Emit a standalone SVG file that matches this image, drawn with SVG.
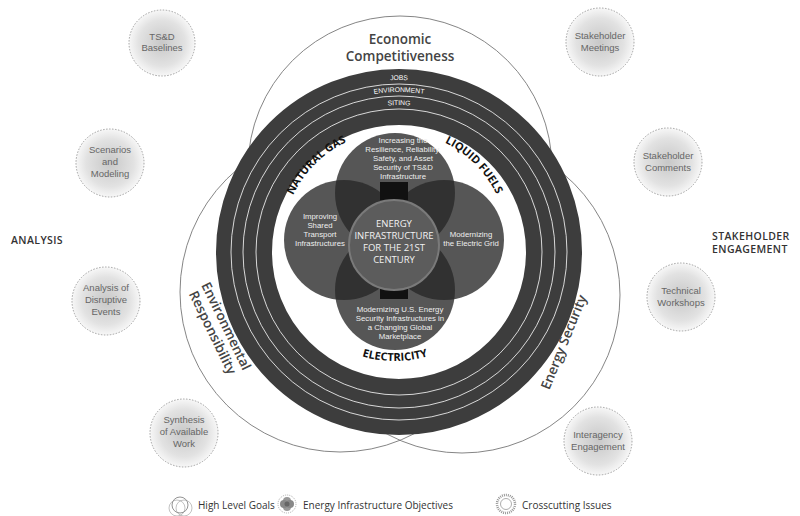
<svg xmlns="http://www.w3.org/2000/svg" xmlns:xlink="http://www.w3.org/1999/xlink" width="800" height="516" viewBox="0 0 800 516">
<defs>
<style>
.goal{fill:none;stroke:#777;stroke-width:0.9}
.sm{fill:url(#dots);stroke:#a0a0a0;stroke-width:1;stroke-dasharray:1.5 1.5}
.smt{font-family:"Liberation Sans","Open Sans",sans-serif;font-size:9.5px;fill:#666;text-anchor:middle}
.gt{font-family:"Open Sans","Liberation Sans",sans-serif;font-size:13.5px;font-weight:600;fill:#444;text-anchor:middle}
.ring{font-family:"Liberation Sans","Open Sans",sans-serif;font-size:6.8px;fill:#fff;text-anchor:middle}
.arc{font-family:"Open Sans","Liberation Sans",sans-serif;font-size:11px;font-weight:bold;fill:#111;text-anchor:middle}
.lt{font-family:"Liberation Sans","Open Sans",sans-serif;font-size:7.8px;fill:#eee;text-anchor:middle}
.ct{font-family:"Open Sans","Liberation Sans",sans-serif;font-size:9.5px;fill:#f2f2f2;text-anchor:middle}
.side{font-family:"Open Sans","Liberation Sans",sans-serif;font-size:10.5px;font-weight:600;fill:#333;letter-spacing:0.4px}
.leg{font-family:"Open Sans","Liberation Sans",sans-serif;font-size:10px;fill:#333}
.lobe{fill:#262626;fill-opacity:0.78}
</style>
<radialGradient id="dots" cx="50%" cy="50%" r="50%">
<stop offset="0" stop-color="#c8c8c8"/>
<stop offset="0.7" stop-color="#e2e2e2"/>
<stop offset="1" stop-color="#f7f7f7"/>
</radialGradient>
<path id="rJobs" d="M227,252 A172,172 0 0 1 571,252"/>
<path id="rEnv" d="M239,252 A160,160 0 0 1 559,252"/>
<path id="rSit" d="M252,252 A147,147 0 0 1 546,252"/>
<path id="aTop" d="M282,244 A113,113 0 1 1 508,244 A113,113 0 1 1 282,244"/>
<path id="aBot" d="M278,244 A117,117 0 0 0 512,244"/>
</defs>

<g id="goals">
<circle class="goal" cx="400" cy="168" r="152"/>
<circle class="goal" cx="340" cy="292" r="160"/>
<circle class="goal" cx="462" cy="295" r="158"/>
</g>

<g id="crosscutting-ring">
<circle cx="399" cy="252" r="155" fill="#fff" stroke="#3d3d3d" stroke-width="56"/>
<circle cx="399" cy="252" r="168" fill="none" stroke="#fff" stroke-width="0.8"/>
<circle cx="399" cy="252" r="156" fill="none" stroke="#fff" stroke-width="0.8"/>
<circle cx="399" cy="252" r="143" fill="none" stroke="#fff" stroke-width="0.8"/>
<text class="ring"><textPath xlink:href="#rJobs" startOffset="50%">JOBS</textPath></text>
<text class="ring"><textPath xlink:href="#rEnv" startOffset="50%">ENVIRONMENT</textPath></text>
<text class="ring"><textPath xlink:href="#rSit" startOffset="50%">SITING</textPath></text>
</g>

<g id="objectives">
<circle cx="395" cy="193" r="60" class="lobe"/>
<circle cx="395" cy="290" r="60" class="lobe"/>
<circle cx="344" cy="240" r="60" class="lobe"/>
<circle cx="444" cy="240" r="60" class="lobe"/>
<rect x="380" y="182" width="28" height="18" fill="#111"/>
<rect x="380" y="283" width="28" height="16" fill="#111"/>
<circle cx="394" cy="245" r="45" fill="#5c5c5c" stroke="#7a7a7a" stroke-width="2"/>
<text class="lt"><tspan x="403" y="143">Increasing the</tspan><tspan x="403" y="152">Resilience, Reliability,</tspan><tspan x="403" y="161">Safety, and Asset</tspan><tspan x="403" y="170">Security of TS&amp;D</tspan><tspan x="403" y="179">Infrastructure</tspan></text>
<text class="lt"><tspan x="320" y="219">Improving</tspan><tspan x="320" y="228">Shared</tspan><tspan x="320" y="237">Transport</tspan><tspan x="320" y="246">Infrastructures</tspan></text>
<text class="lt"><tspan x="471" y="237">Modernizing</tspan><tspan x="471" y="246">the Electric Grid</tspan></text>
<text class="lt"><tspan x="400" y="312">Modernizing U.S. Energy</tspan><tspan x="400" y="321">Security Infrastructures in</tspan><tspan x="400" y="330">a Changing Global</tspan><tspan x="400" y="339">Marketplace</tspan></text>
<text class="ct"><tspan x="394" y="227">ENERGY</tspan><tspan x="394" y="239">INFRASTRUCTURE</tspan><tspan x="394" y="251">FOR THE 21ST</tspan><tspan x="394" y="263">CENTURY</tspan></text>
<text class="arc"><textPath xlink:href="#aTop" startOffset="12.5%">NATURAL GAS</textPath></text>
<text class="arc"><textPath xlink:href="#aTop" startOffset="37.5%">LIQUID FUELS</textPath></text>
<text class="arc"><textPath xlink:href="#aBot" startOffset="50%">ELECTRICITY</textPath></text>
</g>

<g id="goal-labels">
<text class="gt"><tspan x="400" y="44">Economic</tspan><tspan x="400" y="61">Competitiveness</tspan></text>
<text class="gt" transform="translate(222,328) rotate(64)"><tspan x="0" y="0">Environmental</tspan><tspan x="0" y="15">Responsibility</tspan></text>
<text class="gt" transform="translate(568,344) rotate(-68)">Energy Security</text>
</g>

<g id="analysis">
<g id="n-tsd"><circle class="sm" cx="162" cy="43" r="33"/><text class="smt"><tspan x="162" y="40">TS&amp;D</tspan><tspan x="162" y="51">Baselines</tspan></text></g>
<g id="n-scen"><circle class="sm" cx="110" cy="163" r="34"/><text class="smt"><tspan x="110" y="153">Scenarios</tspan><tspan x="110" y="165">and</tspan><tspan x="110" y="177">Modeling</tspan></text></g>
<g id="n-disr"><circle class="sm" cx="106" cy="301" r="34"/><text class="smt"><tspan x="106" y="291">Analysis of</tspan><tspan x="106" y="303">Disruptive</tspan><tspan x="106" y="315">Events</tspan></text></g>
<g id="n-synth"><circle class="sm" cx="184" cy="433" r="34"/><text class="smt"><tspan x="184" y="423">Synthesis</tspan><tspan x="184" y="435">of Available</tspan><tspan x="184" y="447">Work</tspan></text></g>
</g>

<g id="stakeholder">
<g id="n-meet"><circle class="sm" cx="600" cy="42" r="34"/><text class="smt"><tspan x="600" y="39">Stakeholder</tspan><tspan x="600" y="51">Meetings</tspan></text></g>
<g id="n-comm"><circle class="sm" cx="668" cy="162" r="34"/><text class="smt"><tspan x="668" y="159">Stakeholder</tspan><tspan x="668" y="171">Comments</tspan></text></g>
<g id="n-work"><circle class="sm" cx="681" cy="297" r="34"/><text class="smt"><tspan x="681" y="294">Technical</tspan><tspan x="681" y="306">Workshops</tspan></text></g>
<g id="n-inter"><circle class="sm" cx="598" cy="441" r="34"/><text class="smt"><tspan x="598" y="438">Interagency</tspan><tspan x="598" y="450">Engagement</tspan></text></g>
</g>

<g id="side-labels">
<text class="side" x="11" y="244">ANALYSIS</text>
<text class="side"><tspan x="712" y="240">STAKEHOLDER</tspan><tspan x="712" y="253">ENGAGEMENT</tspan></text>
</g>

<g id="connectors"></g>

<g id="legend">
<g id="leg-goals"><circle cx="180" cy="505" r="8" fill="none" stroke="#777" stroke-width="0.8"/><circle cx="177" cy="508" r="8" fill="none" stroke="#999" stroke-width="0.6"/><circle cx="184" cy="508" r="8" fill="none" stroke="#999" stroke-width="0.6"/>
<text class="leg" x="198" y="509">High Level Goals</text></g>
<g id="leg-obj"><circle cx="287" cy="504" r="9" fill="none" stroke="#999" stroke-width="0.8" stroke-dasharray="1 1"/><circle cx="287" cy="501" r="4" fill="#999"/><circle cx="287" cy="507" r="4" fill="#999"/><circle cx="284" cy="504" r="4" fill="#888"/><circle cx="290" cy="504" r="4" fill="#888"/><circle cx="287" cy="504" r="2.5" fill="#666"/>
<text class="leg" x="303" y="509">Energy Infrastructure Objectives</text></g>
<g id="leg-cross"><circle cx="506" cy="504" r="9" fill="none" stroke="#999" stroke-width="2.5" stroke-dasharray="1 1"/><circle cx="506" cy="504" r="5.5" fill="none" stroke="#999" stroke-width="0.8"/>
<text class="leg" x="522" y="509">Crosscutting Issues</text></g>
</g>
</svg>
